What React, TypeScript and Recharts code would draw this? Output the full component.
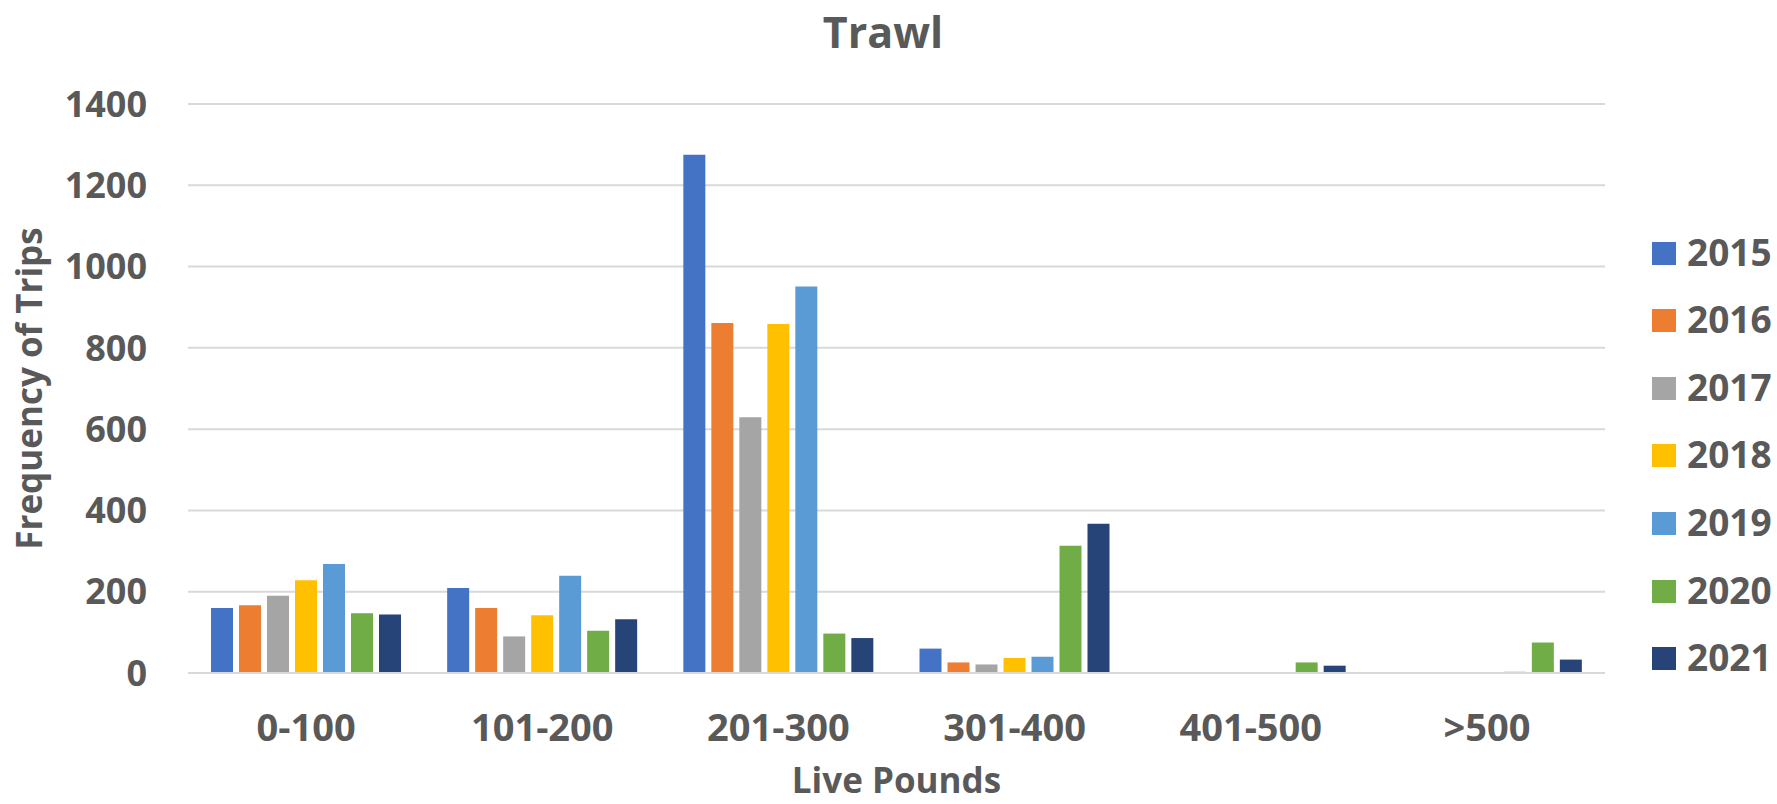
import React from 'react';
import { BarChart, Bar, XAxis, YAxis, CartesianGrid, Legend } from 'recharts';

const categories = ['0-100', '101-200', '201-300', '301-400', '401-500', '>500'];
const years = ['2015', '2016', '2017', '2018', '2019', '2020', '2021'];
const colors = ['#4472C4', '#ED7D31', '#A5A5A5', '#FFC000', '#5B9BD5', '#70AD47', '#264478'];

const v2015 = [160, 209, 1275, 60, 1, 0];
const v2016 = [167, 160, 861, 26, 0, 0];
const v2017 = [190, 90, 629, 21, 0, 1];
const v2018 = [228, 142, 859, 37, 0, 0];
const v2019 = [268, 239, 951, 40, 1, 3];
const v2020 = [147, 104, 97, 313, 26, 75];
const v2021 = [144, 132, 86, 367, 18, 33];
const yTicks = [0, 200, 400, 600, 800, 1000, 1200, 1400];

const seriesValues = [v2015, v2016, v2017, v2018, v2019, v2020, v2021];
const data = categories.map((c, i) => {
  const row: Record<string, string | number> = { name: c };
  years.forEach((y, k) => {
    row[y] = seriesValues[k][i];
  });
  return row;
});

const FONT = '"Open Sans", sans-serif';
const TXT = '#595959';

const renderLegend = (props: any) => {
  const payload = props.payload || [];
  return (
    <div style={{ position: 'relative', width: 125, height: 804 }}>
      {payload.map((p: any, i: number) => (
        <svg
          key={p.value}
          width={125}
          height={40}
          style={{ position: 'absolute', left: 0, top: 241.5 + i * 67.6, overflow: 'visible' }}
        >
          <rect x={0} y={0} width={24} height={23} fill={p.color} />
          <text x={35} y={24} fontFamily={FONT} fontWeight={700} fontSize={37} fill={TXT}>
            {p.value}
          </text>
        </svg>
      ))}
    </div>
  );
};

export default function App() {
  return (
    <div style={{ position: 'absolute', left: 0, top: 0, width: 1777, height: 804, background: '#fff' }}>
      <svg width={1777} height={60} style={{ position: 'absolute', left: 0, top: 0 }}>
        <text x={883} y={47.5} textAnchor="middle" fontFamily={FONT} fontWeight={700} fontSize={43} fill={TXT}>
          Trawl
        </text>
      </svg>
      <div style={{ position: 'absolute', left: 0, top: 0 }}>
        <BarChart
          width={1777}
          height={804}
          data={data}
          margin={{ top: 104, right: 172, bottom: 0, left: 0 }}
          barSize={22}
          barGap={6}
        >
          <CartesianGrid vertical={false} stroke="#d9d9d9" strokeWidth={2} />
          <XAxis
            dataKey="name"
            height={131}
            axisLine={{ stroke: '#d9d9d9', strokeWidth: 2 }}
            tickLine={false}
            tickSize={0}
            tickMargin={41}
            tick={{ fontFamily: FONT, fontWeight: 700, fontSize: 38, fill: TXT }}
            interval={0}
            label={{
              value: 'Live Pounds',
              position: 'insideBottom',
              offset: 11,
              style: { fontFamily: FONT, fontWeight: 700, fontSize: 35, fill: TXT },
            }}
          />
          <YAxis
            width={188}
            domain={[0, 1400]}
            ticks={yTicks}
            axisLine={false}
            tickLine={false}
            tickSize={0}
            tickMargin={41}
            tick={{ fontFamily: FONT, fontWeight: 700, fontSize: 36, fill: TXT }}
            label={{
              content: (p: any) => {
                const vb = p.viewBox || { x: 0, y: 104, width: 188, height: 569 };
                const cy = vb.y + vb.height / 2;
                return (
                  <text
                    x={42}
                    y={cy}
                    transform={`rotate(-90, 42, ${cy})`}
                    textAnchor="middle"
                    fontFamily={FONT}
                    fontWeight={700}
                    fontSize={35}
                    fill={TXT}
                  >
                    Frequency of Trips
                  </text>
                );
              },
            }}
          />
          <Legend
            layout="vertical"
            align="center"
            verticalAlign="middle"
            content={renderLegend}
            wrapperStyle={{ left: 1652, top: 0, width: 125, height: 804 }}
          />
          {years.map((y, k) => (
            <Bar key={y} dataKey={y} fill={colors[k]} isAnimationActive={false} />
          ))}
        </BarChart>
      </div>
    </div>
  );
}
